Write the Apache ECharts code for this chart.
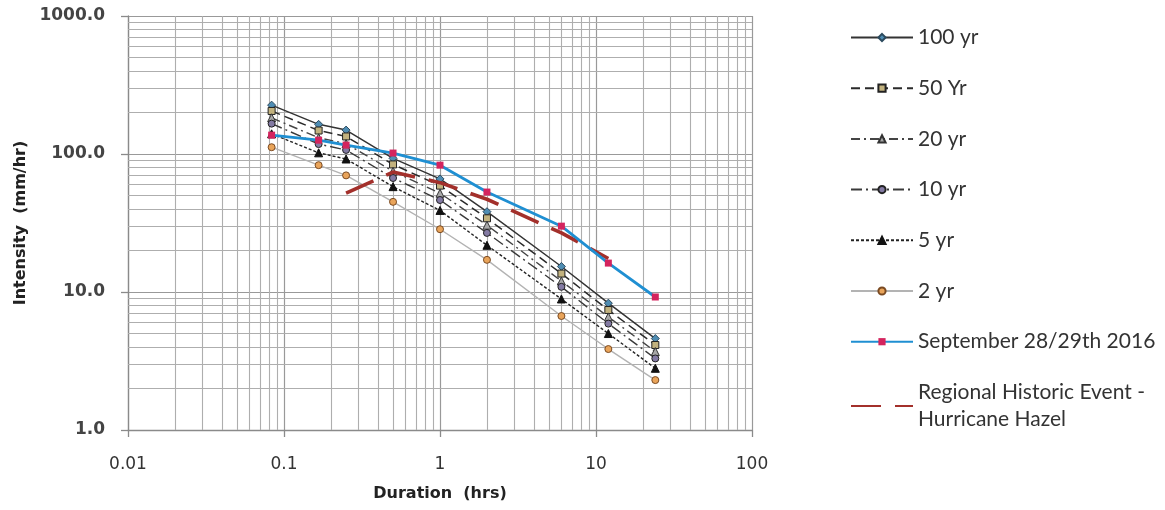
<!DOCTYPE html>
<html>
<head>
<meta charset="utf-8">
<script src="https://cdn.jsdelivr.net/npm/echarts@6/dist/echarts.min.js"></script>
<style>
html,body{margin:0;padding:0;background:#fff;}
#chart{width:1165px;height:510px;}
</style>
</head>
<body>
<div id="chart"></div>
<script>
// Durations (hours)
const durations = [0.0833, 0.1667, 0.25, 0.5, 1, 2, 6, 12, 24];
// IDF intensities (mm/hr)
const yr100 = [226, 164, 149, 93, 66, 38.2, 15.3, 8.3, 4.6];
const yr50  = [205, 148, 134, 84, 59, 34.2, 13.6, 7.4, 4.13];
const yr20  = [183, 131, 119, 75, 52, 30.5, 12.0, 6.6, 3.7];
const yr10  = [166, 118, 107, 67, 46.4, 26.8, 10.9, 5.9, 3.3];
const yr5   = [140, 102, 92, 58, 39, 21.8, 8.9, 5.0, 2.8];
const yr2   = [112, 83, 70, 45, 28.5, 17.1, 6.7, 3.86, 2.3];
// Observed events
const sept2016 = [137, 126, 116, 101.6, 83, 53, 30, 16.2, 9.2];
const hazelDur = [0.25, 0.5, 1, 2, 6, 12];
const hazel    = [52, 74, 62, 47, 26.8, 17.5];
// Axis tick labels
const xTicks = [0.01, 0.1, 1, 10, 100];
const yTicks = [1, 10, 100, 1000];
const names = ['100 yr', '50 Yr', '20 yr', '10 yr', '5 yr', '2 yr', 'September 28/29th 2016', 'Regional Historic Event -\nHurricane Hazel'];

function pairs(xs, ys){ return xs.map((x,i)=>[x, ys[i]]); }

// minor grid positions (2..9 per decade)
const minorX = [], minorY = [];
for (let e=-2;e<=1;e++) for (let k=2;k<=9;k++) minorX.push(Number((k*Math.pow(10,e)).toPrecision(3)));
for (let e=0;e<=2;e++) for (let k=2;k<=9;k++) minorY.push(Number((k*Math.pow(10,e)).toPrecision(3)));

const wide = '"DejaVu Sans", sans-serif';
const legFont = 'Lato, "Open Sans", sans-serif';

const chart = echarts.init(document.getElementById('chart'), null, {renderer:'canvas'});
chart.setOption({
  animation:false,
  backgroundColor:'#ffffff',
  grid:{left:128, right:413, top:16, bottom:80, containLabel:false},
  xAxis:{
    type:'log', logBase:10, min:0.01, max:100,
    name:'Duration  (hrs)', nameLocation:'middle', nameGap:56,
    nameTextStyle:{fontFamily:wide, fontSize:16, fontWeight:'bold', color:'#222'},
    axisLine:{show:true, onZero:false, lineStyle:{color:'#8a8a8a', width:1.3}},
    axisTick:{show:true, length:7, lineStyle:{color:'#8a8a8a', width:1.3}},
    axisLabel:{margin:26, fontFamily:wide, fontSize:17, color:'#333',
      formatter:function(v){ const t = xTicks.find(t=>Math.abs(Math.log10(t)-Math.log10(v))<1e-6); return t!==undefined ? String(t) : ''; }},
    splitLine:{show:true, lineStyle:{color:'#999', width:1.2}},
    minorTick:{show:false}, minorSplitLine:{show:false}
  },
  yAxis:{
    type:'log', logBase:10, min:1, max:1000,
    name:'Intensity  (mm/hr)', nameLocation:'middle', nameGap:99, nameRotate:90,
    nameTextStyle:{fontFamily:wide, fontSize:16, fontWeight:'bold', color:'#222'},
    axisLine:{show:true, lineStyle:{color:'#8a8a8a', width:1.3}},
    axisTick:{show:true, length:7, lineStyle:{color:'#8a8a8a', width:1.3}},
    axisLabel:{margin:23, fontFamily:wide, fontSize:17, fontWeight:'bold', color:'#444',
      formatter:function(v){ const t = yTicks.find(t=>Math.abs(Math.log10(t)-Math.log10(v))<1e-6); return t!==undefined ? t.toFixed(1) : ''; }},
    splitLine:{show:true, lineStyle:{color:'#999', width:1.2}}
  },
  legend:{
    data:names.map((n,i)=> i===7 ? {name:n, itemStyle:{color:'rgba(0,0,0,0)', borderWidth:0, opacity:0}} : {name:n}),
    orient:'vertical', left:845, top:19,
    itemWidth:62, itemHeight:9, itemGap:23.7,
    textStyle:{fontFamily:legFont, fontSize:21, color:'#333', lineHeight:27},
    inactiveColor:'#ccc'
  },
  series:[
    {type:'line', name:'_grid', data:[], silent:true, z:1,
      markLine:{silent:true, symbol:['none','none'], label:{show:false},
        lineStyle:{color:'#aeaeae', width:1.1, type:'solid'},
        emphasis:{disabled:true},
        data: minorX.map(v=>({xAxis:v})).concat(minorY.map(v=>({yAxis:v})))}},
    {type:'line', name:names[0], data:pairs(durations, yr100), z:10,
      symbol:'diamond', symbolSize:8,
      itemStyle:{color:'#4f8db3', borderColor:'#2b4a5e', borderWidth:1},
      lineStyle:{color:'#333', width:1.5, type:'solid'}},
    {type:'line', name:names[1], data:pairs(durations, yr50), z:10,
      symbol:'rect', symbolSize:7,
      itemStyle:{color:'#c2b27e', borderColor:'#222', borderWidth:1},
      lineStyle:{color:'#2a2a2a', width:1.5, type:[9,5]}},
    {type:'line', name:names[2], data:pairs(durations, yr20), z:10,
      symbol:'triangle', symbolSize:8,
      itemStyle:{color:'#a8a8a8', borderColor:'#333', borderWidth:1},
      lineStyle:{color:'#444', width:1.4, type:[9,4,2,4]}},
    {type:'line', name:names[3], data:pairs(durations, yr10), z:10,
      symbol:'circle', symbolSize:7,
      itemStyle:{color:'#837aa3', borderColor:'#222', borderWidth:1},
      lineStyle:{color:'#3a3a3a', width:1.4, type:[11,4,2,4]}},
    {type:'line', name:names[4], data:pairs(durations, yr5), z:10,
      symbol:'triangle', symbolSize:8,
      itemStyle:{color:'#111', borderColor:'#111', borderWidth:1},
      lineStyle:{color:'#222', width:1.4, type:[3,2]}},
    {type:'line', name:names[5], data:pairs(durations, yr2), z:10,
      symbol:'circle', symbolSize:7,
      itemStyle:{color:'#e9a45a', borderColor:'#7a4a22', borderWidth:1},
      lineStyle:{color:'#b3b3b3', width:1.4, type:'solid'}},
    {type:'line', name:names[6], data:pairs(durations, sept2016), z:12,
      symbol:'rect', symbolSize:7,
      itemStyle:{color:'#d4245e', borderColor:'#d4245e', borderWidth:0},
      lineStyle:{color:'#1f8fd2', width:2.8, type:'solid'}},
    {type:'line', name:names[7], data:pairs(hazelDur, hazel), z:11,
      symbol:'none', showSymbol:false,
      itemStyle:{color:'#a3302b'},
      lineStyle:{color:'#a3302b', width:3.6, type:[30,14]}}
  ]
});
</script>
</body>
</html>
